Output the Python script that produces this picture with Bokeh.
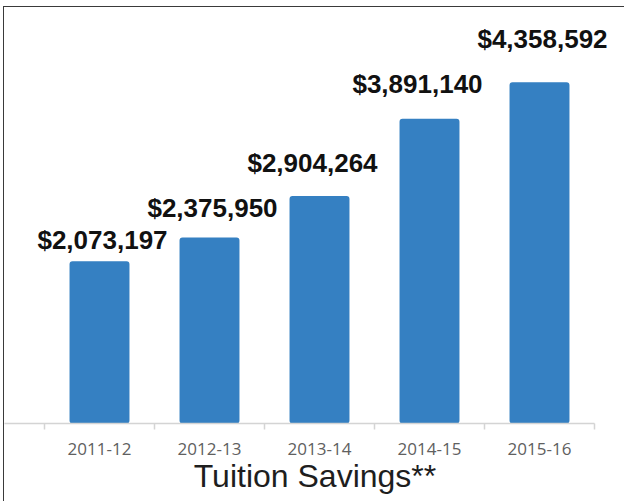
from bokeh.plotting import figure
from bokeh.models import ColumnDataSource, FixedTicker, Range1d
from bokeh.core.properties import value
from bokeh.embed import file_html
from bokeh.resources import INLINE

# ---- data ----
years = ["2011-12", "2012-13", "2013-14", "2014-15", "2015-16"]
savings = [2073197, 2375950, 2904264, 3891140, 4358592]
title_text = "Tuition Savings**"

# ---- label nudges (pixels) ----
label_dx = [3, 3, -7, -12, 3]
label_dy = [21, 29, 33, 35, 43]

idx = list(range(len(years)))
centers = [i + 0.5 for i in idx]
labels = ["${:,}".format(v) for v in savings]

src = ColumnDataSource(dict(
    x=centers, top=savings, label=labels,
    dx=label_dx, dy=[-d for d in label_dy],
))

x_start = -40 / 110
x_end = len(years) + 31 / 110
p = figure(
    width=621, height=495,
    x_range=Range1d(x_start, x_end),
    y_range=Range1d(0, 5312000),
    output_backend="svg", toolbar_location=None,
    min_border_left=0, min_border_right=0, min_border_top=0,
    min_border_bottom=79,
)
p.styles = {
    "margin-left": "3px",
    "margin-top": "6px",
    "border-left": "1px solid #3a3a3a",
    "border-top": "1px solid #3a3a3a",
}
p.outline_line_color = None
p.grid.visible = False
p.yaxis.visible = False

p.vbar(x="x", top="top", width=0.545, bottom=0, source=src,
       fill_color="#3580c2", line_color=None, border_radius=3)

p.text(x="x", y="top", text="label", x_offset="dx", y_offset="dy", source=src,
       text_font=value("Liberation Sans"), text_font_style="bold",
       text_font_size="26px", text_color="#111111",
       text_align="center", text_baseline="alphabetic")

ax = p.xaxis[0]
ax.ticker = FixedTicker(ticks=centers, minor_ticks=[float(i) for i in range(len(years) + 1)])
ax.major_label_overrides = {c: y for c, y in zip(centers, years)}
ax.bounds = (x_start, len(years))
ax.axis_line_color = "#d4d4d4"
ax.axis_line_width = 1.5
ax.major_tick_out = 0
ax.major_tick_in = 0
ax.minor_tick_out = 6
ax.minor_tick_in = 0
ax.minor_tick_line_color = "#d4d4d4"
ax.minor_tick_line_width = 1.5
ax.major_label_standoff = 13
ax.major_label_text_font = "Open Sans"
ax.major_label_text_font_size = "17px"
ax.major_label_text_color = "#606060"
ax.axis_label = title_text
ax.axis_label_standoff = 0
ax.axis_label_text_font = "Liberation Sans"
ax.axis_label_text_font_style = "normal"
ax.axis_label_text_font_size = "32px"
ax.axis_label_text_color = "#1e1e1e"

open("out.html", "w").write(file_html(p, INLINE))
